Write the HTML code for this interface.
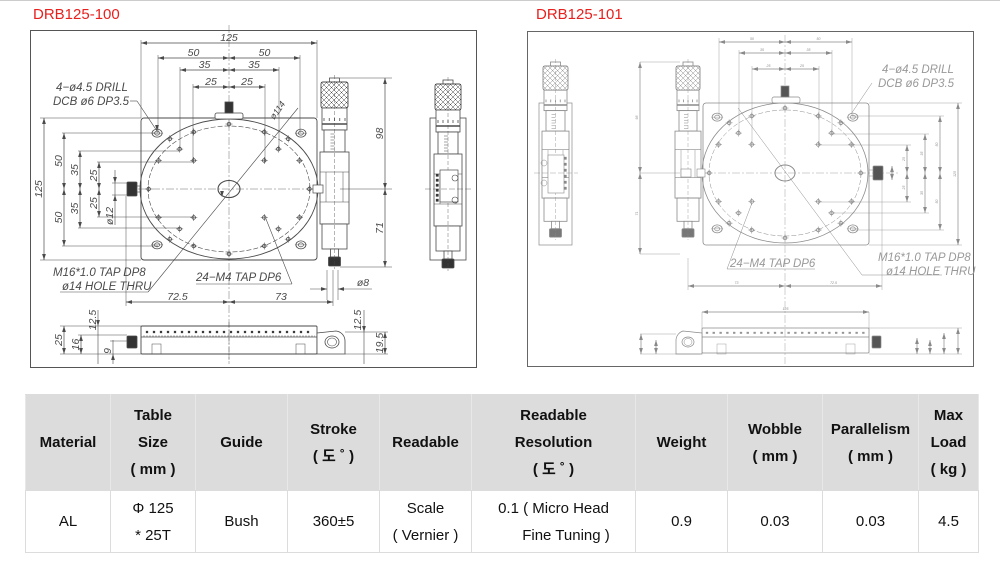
<!DOCTYPE html>
<html><head><meta charset="utf-8">
<style>
html,body{margin:0;padding:0;background:#fff;width:1000px;height:574px;overflow:hidden;font-family:"Liberation Sans","Noto Sans CJK KR",sans-serif}
#top{position:absolute;left:0;top:0;width:1000px;height:1px;background:#ccc}
.title{position:absolute;top:6px;font-size:15px;color:#e8201e;font-family:"Liberation Sans",sans-serif}
svg{position:absolute;left:0;top:0}
table{position:absolute;left:25px;top:394px;border-collapse:collapse;table-layout:fixed;width:953px;font-family:"Liberation Sans","Noto Sans CJK KR",sans-serif}
td{border:1px solid #dcdcdc;text-align:center;vertical-align:middle;padding:0;font-size:15px;color:#111;line-height:27px}
tr.h td{background:#dcdcdc;font-weight:bold;height:95px;border-color:#dcdcdc #e8e8e8}
tr.b td{height:61px;background:#fff}
</style></head><body>
<div id="top"></div>
<div class="title" style="left:33px">DRB125-100</div>
<div class="title" style="left:536px">DRB125-101</div>
<svg id="s" width="1000" height="380" viewBox="0 0 1000 380"></svg>
<table>
<colgroup><col style="width:85px"><col style="width:85px"><col style="width:92px"><col style="width:92px"><col style="width:92px"><col style="width:164px"><col style="width:92px"><col style="width:95px"><col style="width:96px"><col style="width:60px"></colgroup>
<tr class="h"><td>Material</td><td>Table<br>Size<br>( mm )</td><td>Guide</td><td>Stroke<br>( 도 ˚ )</td><td>Readable</td><td>Readable<br>Resolution<br>( 도 ˚ )</td><td>Weight</td><td>Wobble<br>( mm )</td><td>Parallelism<br>( mm )</td><td>Max<br>Load<br>( kg )</td></tr>
<tr class="b"><td>AL</td><td>Φ 125<br>* 25T</td><td>Bush</td><td>360±5</td><td>Scale<br>( Vernier )</td><td>0.1 ( Micro Head<br>&nbsp;&nbsp;&nbsp;&nbsp;&nbsp;&nbsp;Fine Tuning )</td><td>0.9</td><td>0.03</td><td>0.03</td><td>4.5</td></tr>
</table>
<script>
var o='';
function L(x1,y1,x2,y2,c,w,d){o+='<line x1="'+x1+'" y1="'+y1+'" x2="'+x2+'" y2="'+y2+'" stroke="'+(c||'#555')+'" stroke-width="'+(w||0.7)+'"'+(d?' stroke-dasharray="'+d+'"':'')+'/>';}
function R(x,y,w,h,c,f,sw,rx){o+='<rect x="'+x+'" y="'+y+'" width="'+w+'" height="'+h+'" fill="'+(f||'none')+'" stroke="'+(c||'#555')+'" stroke-width="'+(sw||0.8)+'"'+(rx?' rx="'+rx+'"':'')+'/>';}
function E(cx,cy,rx,ry,c,f,sw,d){o+='<ellipse cx="'+cx+'" cy="'+cy+'" rx="'+rx+'" ry="'+ry+'" fill="'+(f||'none')+'" stroke="'+(c||'#555')+'" stroke-width="'+(sw||0.8)+'"'+(d?' stroke-dasharray="'+d+'"':'')+'/>';}
function T(x,y,t,s,c,rot,anc,it){o+='<text x="'+x+'" y="'+y+'" font-size="'+s+'" fill="'+c+'" font-family="Liberation Sans, sans-serif"'+(it!==false?' font-style="italic"':'')+' text-anchor="'+(anc||'middle')+'"'+(rot?' transform="rotate('+rot+' '+x+' '+y+')"':'')+'>'+t+'</text>';}
function A(x,y,dir,c){var s=3;var p;
 if(dir=='l')p=[x,y,x+s*2,y-s/1.6,x+s*2,y+s/1.6];
 if(dir=='r')p=[x,y,x-s*2,y-s/1.6,x-s*2,y+s/1.6];
 if(dir=='u')p=[x,y,x-s/1.6,y+s*2,x+s/1.6,y+s*2];
 if(dir=='d')p=[x,y,x-s/1.6,y-s*2,x+s/1.6,y-s*2];
 o+='<polygon points="'+p.join(',')+'" fill="'+c+'"/>';}
function DH(x1,x2,y,t,c,fs){L(x1,y,x2,y,c,0.7);A(x1,y,'l',c);A(x2,y,'r',c);if(t)T((x1+x2)/2,y-2,t,fs,c);}
function DV(x,y1,y2,t,c,fs){L(x,y1,x,y2,c,0.7);A(x,y1,'u',c);A(x,y2,'d',c);if(t)T(x-2,(y1+y2)/2,t,fs,c,-90);}
function hole(x,y,c){E(x,y,1.8,1.8,c,'none',0.8);L(x-3.5,y,x+3.5,y,c,0.5);L(x,y-3.5,x,y+3.5,c,0.5);}
function mhole(x,y,c){E(x,y,5,4,c,'none',0.8);E(x,y,2.5,2,c,'none',0.7);L(x-6,y,x+6,y,c,0.4);}
function knurl(x,y,w,h,c){R(x,y,w,h,c,'#fff',0.9,2);var n=6;for(var i=-n;i<=n*2;i++){var a=x+i*w/n;o+='<clipPath id="k'+x+'"><rect x="'+x+'" y="'+y+'" width="'+w+'" height="'+h+'"/></clipPath>';}
 o+='<g clip-path="url(#k'+x+')">';for(var i=-6;i<12;i++){var a=x+i*5;L(a,y,a+h,y+h,c,0.5);L(a+h,y,a,y+h,c,0.5);}o+='</g>';}
function micro(x,y0,w,c,dark,sc){ // x left, width
 var cx=x+w/2;
 R(cx-5,y0,10,4,c,'#fff',0.8);
 knurl(x+1,y0+4,w-2,26*sc,c);
 var y=y0+4+26*sc;
 R(x+2,y,w-4,22*sc,c,'#fff',0.8);
 for(var i=0;i<5;i++)L(x+4+i*(w-8)/4,y+10*sc,x+4+i*(w-8)/4,y+13*sc,c,0.8);
 L(x+2,y+16*sc,x+w-2,y+16*sc,c,1.5);
 y+=22*sc;R(x+4,y,w-8,22*sc,c,'#fff',0.8);
 for(var i=0;i<6;i++)L(cx-4,y+4+i*3*sc,cx,y+4+i*3*sc,c,0.5);
 y+=22*sc;R(x,y,w,72*sc,c,'#fff',0.8);L(x,y+20*sc,x+w,y+20*sc,c,0.6);L(x,y+72*sc-22*sc,x+w,y+72*sc-22*sc,c,0.6);
 L(x+6,y+20*sc,x+6,y+50*sc,c,0.5);L(x+w-6,y+20*sc,x+w-6,y+50*sc,c,0.5);
 y+=72*sc;R(x+2,y,w-4,25*sc,c,'#fff',0.8);
 y+=25*sc;R(cx-4,y,8,8*sc,c,'#fff',0.8);y+=8*sc;R(cx-6,y,12,9*sc,c,dark,0.8,1);
 L(cx,y0-3,cx,y+12*sc,c,0.4,'4,2');
}
// ======== PANEL 1 ========
var c='#4a4a4a',fs=10.5;
R(30.5,30.5,446,337,'#555','none',1);
// plate
R(141,118,176,142,c,'none',0.9,3);
E(229,189,89,70,c,'none',0.9);E(229,189,81,63,c,'none',0.6,'5,2');
E(229,189,11,8.5,c,'none',1.1);
L(138,189,318,189,c,0.4,'8,2,2,2');L(229,25,229,362,c,0.4,'8,2,2,2');
var cx=229,cy=189,sx=1.41,sy=1.14;
var pts=[[0,57],[57,0],[25,50],[50,25],[25,25],[35,35],[42,44]];
function holes(cx,cy,sx,sy,col){pts.forEach(function(p){var s=[[1,1],[1,-1],[-1,1],[-1,-1]];var seen={};s.forEach(function(q){var k=p[0]*q[0]+','+p[1]*q[1];if(seen[k])return;seen[k]=1;hole(cx+p[0]*q[0]*sx,cy+p[1]*q[1]*sy,col);});});
 [[1,1],[1,-1],[-1,1],[-1,-1]].forEach(function(q){mhole(cx+51*q[0]*sx,cy+49*q[1]*sy,col);});}
holes(cx,cy,sx,sy,c);
// top knob
R(215,113,28,6,c,'#fff',0.8,2);R(225,102,8,11,c,'#333',0.8);
// left knob
R(127,182,10,14,c,'#333',0.8,1);L(137,186,141,186,c,0.6);L(137,192,141,192,c,0.6);
// dims top
L(141,40,141,118,c,0.5);L(317,40,317,118,c,0.5);DH(141,317,43,'125',c,fs);
L(158,55,158,133,c,0.5);L(300,55,300,133,c,0.5);DH(158,229,58,'50',c,fs);DH(229,300,58,'50',c,fs);
L(180,67,180,150,c,0.5);L(279,67,279,150,c,0.5);DH(180,229,70,'35',c,fs);DH(229,279,70,'35',c,fs);
L(193,84,193,162,c,0.5);L(265,84,265,162,c,0.5);DH(193,229,87,'25',c,fs);DH(229,265,87,'25',c,fs);
// dims left
L(40,118,141,118,c,0.5);L(40,260,141,260,c,0.5);DV(44,118,260,'125',c,fs);
L(62,133,158,133,c,0.5);L(62,246,158,246,c,0.5);DV(64,133,189,'50',c,fs);DV(64,189,246,'50',c,fs);
L(78,151,180,151,c,0.5);L(78,228,180,228,c,0.5);DV(80,151,189,'35',c,fs);DV(80,189,228,'35',c,fs);
L(97,162,193,162,c,0.5);L(97,217,193,217,c,0.5);DV(99,162,189,'25',c,fs);DV(99,189,217,'25',c,fs);
L(112,183,127,183,c,0.5);L(112,195,127,195,c,0.5);L(115,170,115,225,c,0.6);A(115,183,'d',c);A(115,195,'u',c);T(113,216,'ø12',fs,c,-90);
// labels
T(56,91,'4−ø4.5 DRILL',11.5,c,0,'start');T(53,105,'DCB ø6 DP3.5',11.5,c,0,'start');L(130,101,137,101,c,0.6);L(137,101,157,131,c,0.6);A(157,131,'d',c);
T(53,276,'M16*1.0 TAP DP8',11.5,c,0,'start');T(62,290,'ø14 HOLE THRU',11.5,c,0,'start');L(60,292,148,292,c,0.6);L(148,292,298,108,c,0.6);A(222,197,'d',c);
T(196,281,'24−M4 TAP DP6',11.5,c,0,'start');L(196,284,292,284,c,0.6);L(292,284,266,219,c,0.6);
T(280,112,'ø114',9,c,-55);
// micrometer
micro(320,78,29,c,'#333',1);
R(313,185,10,8,c,'#fff',0.7);
// right dims
L(340,78,392,78,c,0.5);L(340,189,392,189,c,0.5);L(340,267,392,267,c,0.5);
DV(385,78,189,'98',c,fs);DV(385,189,267,'71',c,fs);
// ø8
L(327,270,327,300,c,0.5);L(338,270,338,300,c,0.5);L(310,289,327,289,c,0.6);A(327,289,'r',c);L(338,289,372,289,c,0.6);A(338,289,'l',c);T(363,286,'ø8',fs,c);
// bottom dims
L(126,196,126,306,c,0.5);L(333,270,333,306,c,0.5);DH(126,229,302,'72.5',c,fs);DH(229,333,302,'73',c,fs);
// side view right
R(430,118,36,142,c,'#fff',0.8);micro(434,80,28,c,'#333',1);
R(440,170,18,32,c,'#fff',0.7);for(var i=0;i<6;i++)R(436,174+i*5,2.5,2.5,c,'#333',0.3);
E(455,178,3,3,c,'none',0.6);E(455,200,3,3,c,'none',0.6);L(425,189,472,189,c,0.4,'6,2');
// bottom view
R(141,326,176,28,c,'none',0.9,1);L(141,337,317,337,c,0.8);
for(var i=0;i<24;i++){R(146+i*7,331,2,2,c,'#333',0.3);}
L(143,336,315,336,c,0.4,'2,1');
R(152,344,9,10,c,'none',0.5);R(296,344,9,10,c,'none',0.5);
o+='<path d="M317,333 L336,331 A10,10 0 0 1 345,341 L345,354 L317,354 Z" fill="#fff" stroke="'+c+'" stroke-width="0.8"/>';
E(332,342,7,6,c,'none',0.8);E(332,342,4.5,4,c,'none',0.6);
R(127,336,10,12,c,'#333',0.8,1);L(229,322,229,364,c,0.4,'6,2');
L(95,326,141,326,c,0.5);L(95,354,141,354,c,0.5);DV(64,326,354,'25',c,fs);L(60,326,95,326,c,0.5);L(60,354,95,354,c,0.5);
DV(81,335,354,'16',c,fs);L(78,335,127,335,c,0.5);
L(98,310,98,364,c,0.6);A(98,326,'d',c);T(96,320,'12.5',fs,c,-90);
L(113,340,113,364,c,0.6);A(113,354,'u',c);T(111,351,'9',fs,c,-90);L(110,341,127,341,c,0.5);
L(364,310,364,364,c,0.6);A(364,332,'d',c);T(361,320,'12.5',fs,c,-90);L(345,332,388,332,c,0.5);L(345,354,388,354,c,0.5);
DV(385,332,354,'19.5',c,fs);
// ======== PANEL 2 ========
var d='#8a8a8a',f2=3.5;
R(527.5,31.5,446,335,'#666','none',1);
R(703,103,166,142,d,'none',0.8,3);
E(785,173,83,70,d,'none',0.8);E(785,173,76,63,d,'none',0.5,'5,2');
E(785,173,10,8,d,'none',1);
L(690,173,900,173,d,0.4,'8,2,2,2');L(785,35,785,364,d,0.4,'8,2,2,2');
holes(785,173,1.33,1.14,d);
R(772,97,28,6,d,'#fff',0.7,2);R(781,86,8,11,d,'#555',0.7);
R(873,166,10,14,d,'#555',0.7,1);L(869,170,873,170,d,0.5);L(869,176,873,176,d,0.5);
L(719,38,719,116,d,0.4);L(852,38,852,116,d,0.4);DH(719,785,42,'50',d,f2);DH(785,852,42,'50',d,f2);
L(739,50,739,134,d,0.4);L(832,50,832,134,d,0.4);DH(739,785,53,'35',d,f2);DH(785,832,53,'35',d,f2);
L(752,66,752,145,d,0.4);L(819,66,819,145,d,0.4);DH(752,785,69,'25',d,f2);DH(785,819,69,'25',d,f2);
L(869,103,962,103,d,0.4);L(869,245,962,245,d,0.4);DV(958,103,245,'125',d,f2);
L(852,116,944,116,d,0.4);L(852,230,944,230,d,0.4);DV(940,116,173,'50',d,f2);DV(940,173,230,'50',d,f2);
L(832,134,929,134,d,0.4);L(832,213,929,213,d,0.4);DV(925,134,173,'35',d,f2);DV(925,173,213,'35',d,f2);
L(819,145,911,145,d,0.4);L(819,202,911,202,d,0.4);DV(907,145,173,'25',d,f2);DV(907,173,202,'25',d,f2);
DV(892,166,180,'',d,f2);
T(882,73,'4−ø4.5 DRILL',11.5,'#999',0,'start');T(878,87,'DCB ø6 DP3.5',11.5,'#999',0,'start');L(872,83,851,114,d,0.5);
T(730,267,'24−M4 TAP DP6',11.5,'#999',0,'start');L(727,269,815,269,d,0.5);L(727,269,752,203,d,0.5);
T(878,261,'M16*1.0 TAP DP8',11.5,'#999',0,'start');T(886,275,'ø14 HOLE THRU',11.5,'#999',0,'start');L(738,108,862,275,d,0.5);L(862,275,942,275,d,0.5);
micro(675,62,26,d,'#777',0.93);R(681,169,10,8,d,'#fff',0.6);R(697,169,8,8,d,'#fff',0.6);
L(640,62,680,62,d,0.4);L(640,173,680,173,d,0.4);L(640,254,680,254,d,0.4);DV(640,62,173,'98',d,f2);DV(640,173,254,'71',d,f2);
L(688,258,688,290,d,0.4);L(882,180,882,290,d,0.4);DH(688,785,286,'73',d,f2);DH(785,882,286,'72.5',d,f2);
R(539,103,33,142,d,'#fff',0.7);micro(542,62,27,d,'#777',0.93);
R(548,155,16,38,d,'#fff',0.6);for(var i=0;i<6;i++)R(564,157+i*6,2.5,2.5,d,'#888',0.3);
E(544,163,3,3,d,'none',0.5);E(544,183,3,3,d,'none',0.5);L(534,173,578,173,d,0.4,'6,2');
// bottom view 2
L(702,312,702,328,d,0.4);L(869,312,869,328,d,0.4);DH(702,869,312,'125',d,f2);
R(702,328,167,25,d,'none',0.8,1);L(702,337,869,337,d,0.7);
for(var i=0;i<24;i++)R(706+i*6.8,332,2,1.6,d,'#999',0.3);
R(717,344,9,10,d,'none',0.4);R(846,344,9,10,d,'none',0.4);
o+='<path d="M702,333 L683,331 A10,10 0 0 0 676,341 L676,354 L702,354 Z" fill="#fff" stroke="'+d+'" stroke-width="0.7"/>';
E(688,342,6,5,d,'none',0.7);E(688,342,4,3.5,d,'none',0.5);
R(872,336,9,12,d,'#555',0.7,1);
L(640,334,676,334,d,0.4);L(640,354,700,354,d,0.4);DV(641,334,354,'',d,f2);DV(656,340,354,'',d,f2);
DV(917,338,354,'',d,f2);DV(930,340,354,'',d,f2);DV(944,333,354,'',d,f2);DV(958,328,354,'',d,f2);
L(869,328,962,328,d,0.4);L(869,354,962,354,d,0.4);
document.getElementById('s').innerHTML=o;
</script>
</body></html>
